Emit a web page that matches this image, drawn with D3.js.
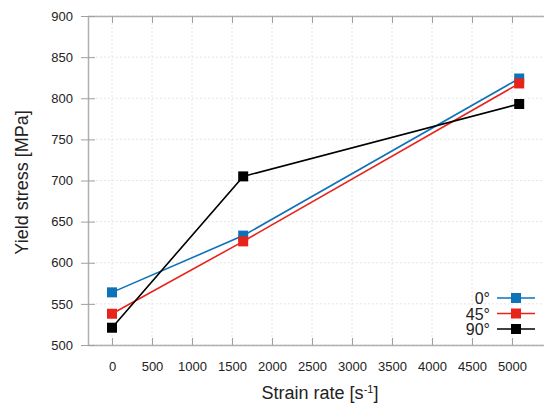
<!DOCTYPE html>
<html>
<head>
<meta charset="utf-8">
<script src="https://cdn.jsdelivr.net/npm/d3@7"></script>
<style>
  body { margin: 0; background: #fff; }
  text { font-family: "Liberation Sans", Arial, sans-serif; }
</style>
</head>
<body>
<script>
// Data
const strainRates = [0, 1640, 5090];
const yield0 = [564, 633, 824];
const yield45 = [538, 626, 818];
const yield90 = [521, 705, 793];
const seriesNames = ["0°", "45°", "90°"];
const seriesColors = ["#0e72b8", "#e8231a", "#000000"];
const xTicks = [0, 500, 1000, 1500, 2000, 2500, 3000, 3500, 4000, 4500, 5000];
const yTicks = [500, 550, 600, 650, 700, 750, 800, 850, 900];

const width = 544, height = 408;
const margin = {left: 88, right: 0, top: 16, bottom: 63};
const fontFamily = '"Liberation Sans", Arial, sans-serif';

const svg = d3.select("body").append("svg")
    .attr("width", width)
    .attr("height", height);

// Scales
const x = d3.scaleLinear()
    .domain([-300, 5400])
    .range([margin.left, width - margin.right]);
const y = d3.scaleLinear()
    .domain([500, 900])
    .range([height - margin.bottom, margin.top]);

// Gridlines
svg.append("g").selectAll("line")
    .data(xTicks)
    .join("line")
    .attr("x1", d => x(d)).attr("x2", d => x(d))
    .attr("y1", y(500)).attr("y2", y(900))
    .attr("stroke", "#e6e6e6")
    .attr("stroke-dasharray", "2,2");
svg.append("g").selectAll("line")
    .data(yTicks)
    .join("line")
    .attr("x1", x.range()[0]).attr("x2", x.range()[1])
    .attr("y1", d => y(d)).attr("y2", d => y(d))
    .attr("stroke", "#e6e6e6")
    .attr("stroke-dasharray", "2,2");

// Axes
const xAxis = svg.append("g")
    .attr("transform", `translate(0,${y(500)})`)
    .call(d3.axisBottom(x).tickValues(xTicks).tickFormat(d3.format("d"))
        .tickSizeInner(-7).tickSizeOuter(0).tickPadding(17));
const xAxisTop = svg.append("g")
    .attr("transform", `translate(0,${y(900)})`)
    .call(d3.axisTop(x).tickValues(xTicks).tickSizeInner(-7).tickSizeOuter(0).tickFormat(""));
const yAxis = svg.append("g")
    .attr("transform", `translate(${x.range()[0]},0)`)
    .call(d3.axisLeft(y).tickValues(yTicks).tickSizeInner(7).tickSizeOuter(0).tickPadding(8));
yAxis.selectAll(".tick line").attr("x1", 7);

[xAxis, xAxisTop, yAxis].forEach(a => {
    a.attr("font-family", fontFamily);
    a.select(".domain").attr("stroke", "#b0b0b0").attr("stroke-width", 1.5);
    a.selectAll(".tick line").attr("stroke", "#a0a0a0");
    a.selectAll(".tick text").attr("font-size", 13).attr("fill", "#222");
});

// Axis titles
svg.append("text")
    .attr("x", 320).attr("y", 399)
    .attr("text-anchor", "middle")
    .attr("font-size", 18)
    .attr("fill", "#222")
    .html('Strain rate [s<tspan baseline-shift="super" font-size="11">-1</tspan>]');
svg.append("text")
    .attr("transform", `translate(28,${(y(500) + y(900)) / 2 + 2}) rotate(-90)`)
    .attr("text-anchor", "middle")
    .attr("font-size", 18)
    .attr("fill", "#222")
    .text("Yield stress [MPa]");

// Series
const series = [yield0, yield45, yield90];
const line = d3.line()
    .x((d, i) => x(strainRates[i]))
    .y(d => y(d));

series.forEach((vals, s) => {
    svg.append("path")
        .datum(vals)
        .attr("fill", "none")
        .attr("stroke", seriesColors[s])
        .attr("stroke-width", 1.6)
        .attr("d", line);
    svg.append("g").selectAll("rect")
        .data(vals)
        .join("rect")
        .attr("x", (d, i) => x(strainRates[i]) - 5)
        .attr("y", d => y(d) - 5)
        .attr("width", 10)
        .attr("height", 10)
        .attr("fill", seriesColors[s]);
});

// Legend
const legend = svg.append("g").attr("transform", "translate(0,298)");
seriesNames.forEach((name, s) => {
    const row = legend.append("g").attr("transform", `translate(0,${s * 15.5})`);
    row.append("text")
        .attr("x", 490).attr("y", 6)
        .attr("text-anchor", "end")
        .attr("font-size", 16)
        .attr("fill", "#222")
        .text(name);
    row.append("line")
        .attr("x1", 497).attr("x2", 535)
        .attr("stroke", seriesColors[s])
        .attr("stroke-width", 1.6);
    row.append("rect")
        .attr("x", 511).attr("y", -5)
        .attr("width", 10).attr("height", 10)
        .attr("fill", seriesColors[s]);
});
</script>
</body>
</html>
